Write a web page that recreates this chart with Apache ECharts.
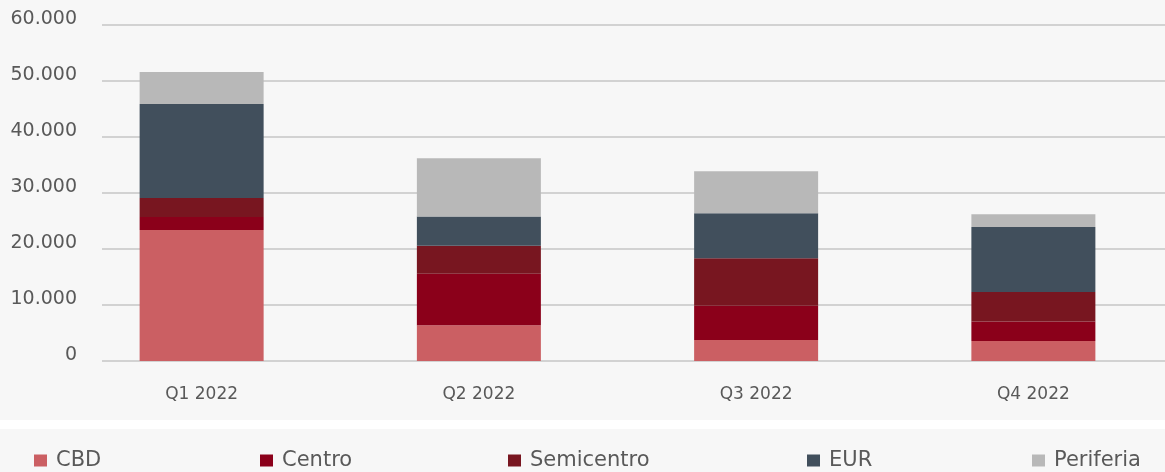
<!DOCTYPE html>
<html>
<head>
<meta charset="utf-8">
<script src="https://cdn.jsdelivr.net/npm/echarts@6/dist/echarts.min.js"></script>
<style>
html,body{margin:0;padding:0;background:#f7f7f7;overflow:hidden;}
#c{width:1175px;height:472px;}
</style>
</head>
<body>
<div id="c"></div>
<script>
const categories = ['Q1 2022', 'Q2 2022', 'Q3 2022', 'Q4 2022'];
const seriesNames = ['CBD', 'Centro', 'Semicentro', 'EUR', 'Periferia'];
const cbd = [23400, 6400, 3750, 3570];
const centro = [2300, 9200, 6100, 3500];
const semicentro = [3400, 5000, 8500, 5250];
const eur = [16800, 5200, 8050, 11600];
const periferia = [5700, 10400, 7500, 2300];
const yTicks = [0, 10000, 20000, 30000, 40000, 50000, 60000];

const colors = ['#cb5f63', '#8b001a', '#781620', '#414f5c', '#b8b8b8'];
const values = [cbd, centro, semicentro, eur, periferia];
const textColor = '#595959';
const font = 'DejaVu Sans';

function fmt(v) {
  return String(v).replace(/\B(?=(\d{3})+(?!\d))/g, '.');
}

const legendLefts = [34, 260, 508, 807, 1032];

const chart = echarts.init(document.getElementById('c'));
chart.setOption({
  backgroundColor: '#f7f7f7',
  animation: false,
  graphic: [{
    type: 'rect', left: 0, top: 420, shape: {width: 1175, height: 9},
    style: {fill: '#ffffff'}, silent: true, z: -1
  }],
  grid: [
    {left: 102, right: 10, top: 25, height: 336},
    {left: 63, right: 3, top: 25, height: 336}
  ],
  xAxis: [
    {gridIndex: 0, type: 'value', show: false, min: 0, max: 1},
    {gridIndex: 1, type: 'category', data: categories,
     axisLine: {show: false}, axisTick: {show: false},
     axisLabel: {color: textColor, fontFamily: font, fontSize: 17, margin: 25}}
  ],
  yAxis: [
    {gridIndex: 0, type: 'value', min: yTicks[0], max: yTicks[yTicks.length - 1], interval: yTicks[1] - yTicks[0],
     axisLine: {show: false}, axisTick: {show: false},
     splitLine: {lineStyle: {color: '#c6c6c6', width: 1.5}},
     axisLabel: {color: textColor, fontFamily: font, fontSize: 19, margin: 25,
       verticalAlign: 'bottom', lineHeight: 11, formatter: fmt}},
    {gridIndex: 1, type: 'value', min: yTicks[0], max: yTicks[yTicks.length - 1], show: false}
  ],
  legend: seriesNames.map((n, i) => ({
    data: [n], left: legendLefts[i], top: 450, padding: 0,
    icon: 'rect', itemWidth: 13, itemHeight: 12,
    textStyle: {color: textColor, fontFamily: font, fontSize: 21, padding: [0, 0, 0, 4]}
  })),
  series: seriesNames.map((n, i) => ({
    name: n, type: 'bar', stack: 'total', xAxisIndex: 1, yAxisIndex: 1,
    barWidth: 124, data: values[i], itemStyle: {color: colors[i]}
  }))
});
</script>
</body>
</html>
